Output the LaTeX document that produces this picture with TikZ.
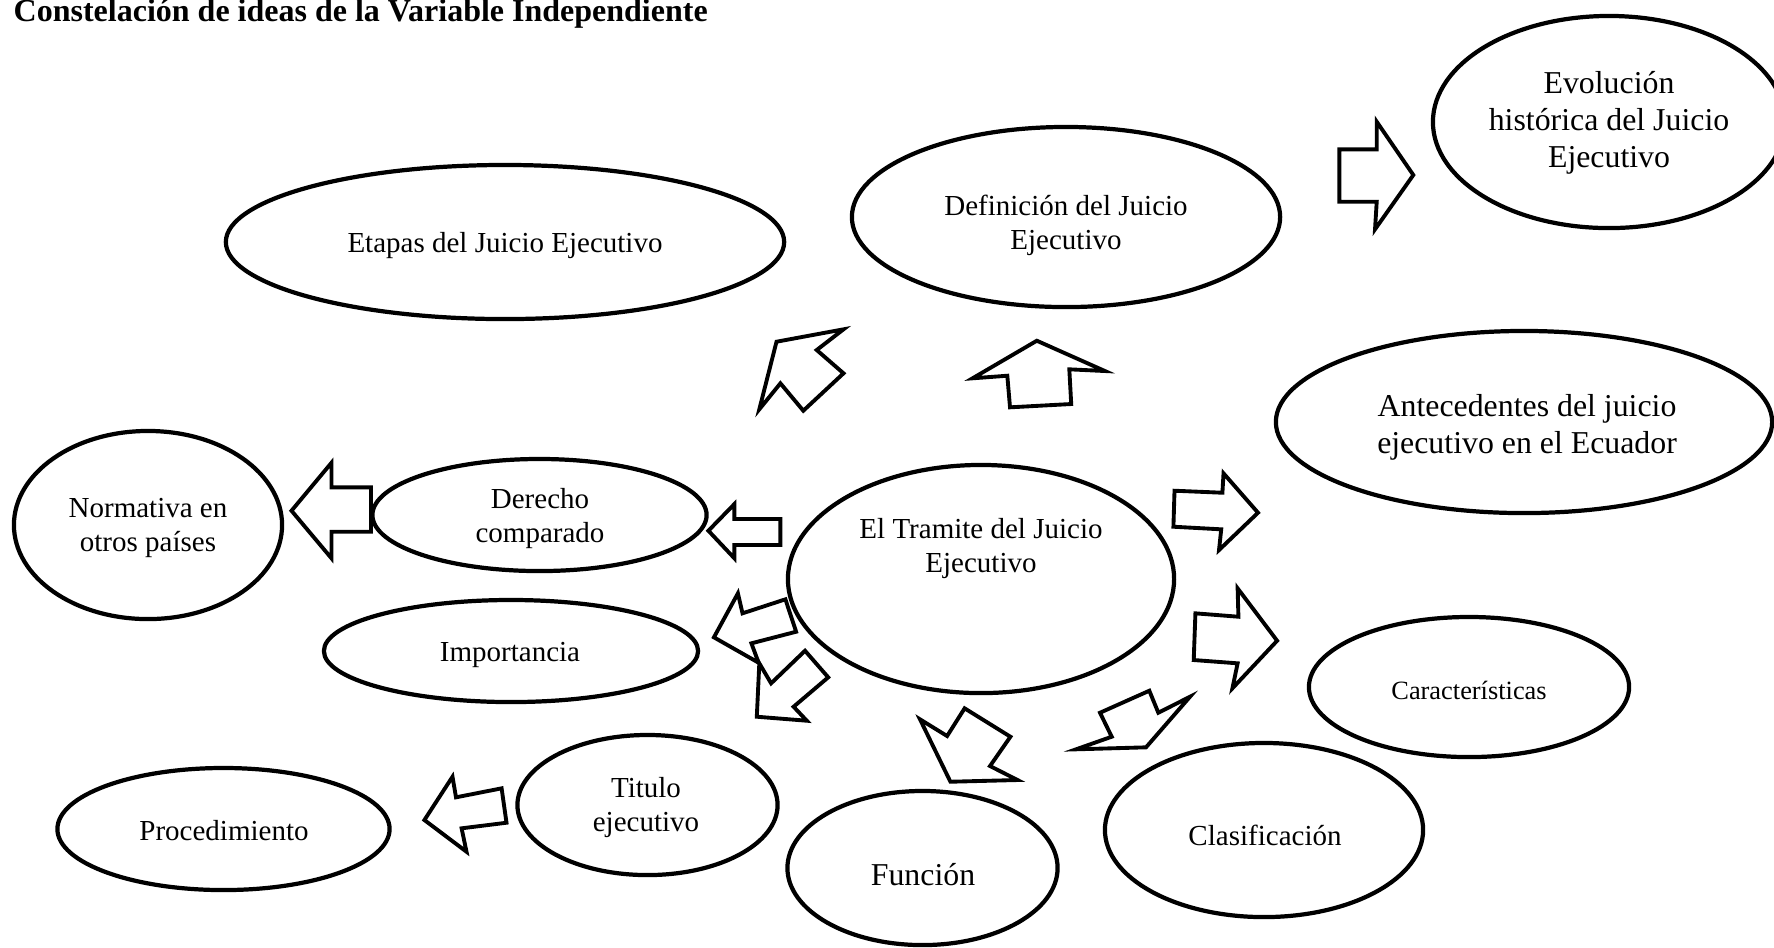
\documentclass[tikz,border=0pt]{standalone}
\usepackage{fontspec}
\setmainfont{Liberation Serif}
\usetikzlibrary{shapes.geometric}
\tikzset{
  idea/.style={ellipse,draw,line width=1.2pt,inner sep=0pt},
  txt/.style={align=center,inner sep=0pt,font=\fontsize{8.25}{9.67}\selectfont},
  bigtxt/.style={txt,font=\fontsize{9.05}{10.45}\selectfont},
  smalltxt/.style={txt,font=\fontsize{7.5}{9}\selectfont},
  blockarrow/.style={draw,line width=1.1pt,line join=miter}
}
\begin{document}
\begin{tikzpicture}[x=0.01cm,y=-0.01cm]
\useasboundingbox (0,0) rectangle (1774,947);
\node (title) [anchor=base west,inner sep=0pt,font=\bfseries\fontsize{9.1}{11}\selectfont] at (13,21) {Constelación de ideas de la Variable Independiente};

% ideas
\node (etapas) [idea,minimum width=5.58cm,minimum height=1.54cm] at (505,242) {};
\node (etapas-t) [txt] at (505,246) {Etapas del Juicio Ejecutivo};
\node (defin) [idea,minimum width=4.28cm,minimum height=1.80cm] at (1066,217) {};
\node (defin-t) [txt] at (1066,225) {Definición del Juicio\\Ejecutivo};
\node (evol) [idea,minimum width=3.52cm,minimum height=2.12cm] at (1609,122) {};
\node (evol-t) [bigtxt] at (1609,123) {Evolución\\histórica del Juicio\\Ejecutivo};
\node (antec) [idea,minimum width=4.96cm,minimum height=1.82cm] at (1524,422) {};
\node (antec-t) [bigtxt] at (1527,427) {Antecedentes del juicio\\ejecutivo en el Ecuador};
\node (normat) [idea,minimum width=2.68cm,minimum height=1.88cm] at (148,525) {};
\node (normat-t) [txt] at (148,528) {Normativa en\\otros países};
\node (derecho) [idea,minimum width=3.34cm,minimum height=1.12cm] at (539.5,515) {};
\node (derecho-t) [txt] at (540,518) {Derecho\\comparado};
\node (tramite) [idea,minimum width=3.86cm,minimum height=2.28cm] at (981,579) {};
\node (tramite-t) [txt] at (981,548) {El Tramite del Juicio\\Ejecutivo};
\node (import) [idea,minimum width=3.74cm,minimum height=1.02cm] at (511,651) {};
\node (import-t) [txt] at (510,655) {Importancia};
\node (titulo) [idea,minimum width=2.60cm,minimum height=1.40cm] at (647.5,805) {};
\node (titulo-t) [txt] at (646,807) {Titulo\\ejecutivo};
\node (proced) [idea,minimum width=3.32cm,minimum height=1.22cm] at (223.5,829) {};
\node (proced-t) [txt] at (224,831) {Procedimiento};
\node (funcion) [idea,minimum width=2.70cm,minimum height=1.54cm] at (922.5,868) {};
\node (funcion-t) [bigtxt] at (923,875) {Función};
\node (caract) [idea,minimum width=3.20cm,minimum height=1.40cm] at (1469,687) {};
\node (caract-t) [smalltxt] at (1469,690) {Características};
\node (clasif) [idea,minimum width=3.18cm,minimum height=1.74cm] at (1264,830) {};
\node (clasif-t) [txt] at (1265,835) {Clasificación};

% block arrows
\draw[blockarrow] (776.5,341.7) -- (843.5,329.3) -- (816.7,350) -- (843.5,373.3) -- (803.3,410.7) -- (780.4,383.3) -- (759.3,409.3) -- cycle;
\draw[blockarrow] (1036.8,340.7) -- (1104.9,371) -- (1069.3,369.3) -- (1071.2,404) -- (1010,407.3) -- (1007.3,375.7) -- (972.5,378.3) -- cycle;
\draw[blockarrow] (1339.3,149.3) -- (1376.7,149.3) -- (1376.7,121.7) -- (1413.3,175) -- (1375,229.3) -- (1376.7,201.7) -- (1339.3,201.7) -- cycle;
\draw[blockarrow] (1174.5,490.7) -- (1222.4,492.7) -- (1223.5,473.3) -- (1258,512.7) -- (1219,550) -- (1221.2,529.3) -- (1173.4,526.7) -- cycle;
\draw[blockarrow] (780.4,519) -- (734.4,519) -- (734.4,504) -- (708.4,530.7) -- (734.4,558.3) -- (734.4,545) -- (780.4,545) -- cycle;
\draw[blockarrow] (371,487.3) -- (331.5,487.3) -- (331.5,462.7) -- (291.5,510.7) -- (331.5,558.3) -- (331.5,531.7) -- (371,531.7) -- cycle;
\draw[blockarrow] (713.9,637.3) -- (737.9,593.3) -- (742.5,613.3) -- (785.4,599.3) -- (796.1,631.7) -- (751.4,643.3) -- (758.6,662.7) -- cycle;
\draw[blockarrow] (805,650.7) -- (828.2,677.3) -- (793.6,706.7) -- (806.8,720.7) -- (756.8,716.7) -- (759.3,663.3) -- (771.1,683.3) -- cycle;
\draw[blockarrow] (452.5,776.7) -- (456,797.3) -- (501.6,788.3) -- (506.5,822.7) -- (461.6,828.3) -- (466.5,851.7) -- (424.4,820) -- cycle;
\draw[blockarrow] (920,719.3) -- (947.1,736) -- (964.6,708.3) -- (1010.4,736.7) -- (990,766) -- (1017.5,780) -- (950.4,781.7) -- cycle;
\draw[blockarrow] (1076,749.3) -- (1111.7,736.7) -- (1100,712.7) -- (1149.3,690.7) -- (1158.3,712.7) -- (1190,696.7) -- (1146,747.3) -- cycle;
\draw[blockarrow] (1195.4,613.3) -- (1238.4,616.7) -- (1237.6,588.3) -- (1277.1,640.7) -- (1232.4,688.3) -- (1237.6,663.3) -- (1193.7,660) -- cycle;
\end{tikzpicture}
\end{document}
